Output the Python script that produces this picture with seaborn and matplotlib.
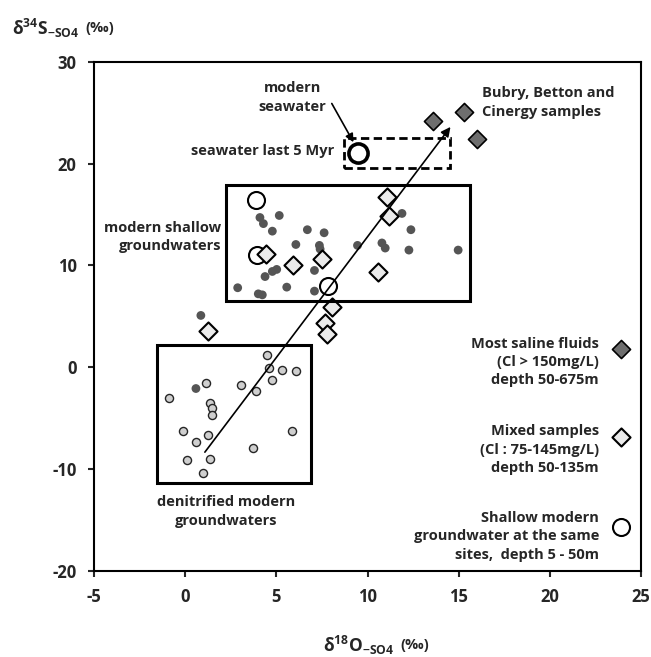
import matplotlib
matplotlib.use('Agg')
import matplotlib.pyplot as plt
from matplotlib.patches import Rectangle
import seaborn as sns
import pandas as pd

# d18O-SO4 (x) and d34S-SO4 (y)
saline_x = [13.6, 15.3, 16.0]
saline_y = [24.2, 25.05, 22.4]

mixed_x = [11.07, 11.19, 4.43, 5.93, 7.53, 10.6, 8.04, 7.68, 7.77, 1.26]
mixed_y = [16.7, 14.8, 11.07, 10.06, 10.65, 9.33, 5.9, 4.3, 3.28, 3.54]

shallow_x = [3.88, 3.96, 7.84]
shallow_y = [16.4, 11.0, 7.96]

seawater_x = [9.47]
seawater_y = [21.0]

# grey dots (modern shallow groundwaters)
dots_x = [4.1, 4.29, 5.16, 4.78, 6.7, 7.62, 6.07, 7.36, 7.4, 9.45, 10.79, 10.97,
          11.89, 12.38, 12.27, 14.97, 6.08, 4.78, 5.02, 4.38, 7.09, 2.88, 4.01,
          4.23, 5.57, 7.09, 0.86, 0.59]
dots_y = [14.7, 14.1, 14.9, 13.36, 13.5, 13.2, 12.05, 11.96, 11.6, 11.96, 12.2, 11.7,
          15.1, 13.5, 11.5, 11.5, 9.8, 9.4, 9.6, 8.9, 9.5, 7.8, 7.2,
          7.1, 7.86, 7.47, 5.08, -2.1]

# small circles (denitrified modern groundwaters)
denit_x = [4.47, 4.6, 5.3, 6.06, 4.78, 1.12, 3.04, 3.87, -0.9, 1.36, 1.48, 1.45,
           -0.1, 1.26, 0.57, 5.88, 3.74, 0.11, 1.36, 0.99]
denit_y = [1.15, -0.1, -0.32, -0.42, -1.3, -1.53, -1.8, -2.3, -3.05, -3.5, -4.0, -4.75,
           -6.28, -6.65, -7.37, -6.28, -7.95, -9.17, -9.07, -10.4]

# legend symbols (drawn inside the plot, as in the original)
key_x = [23.9, 23.9, 23.9]
key_y = [1.8, -6.9, -15.7]
key_text = ['Most saline fluids\n(Cl > 150mg/L)\ndepth 50-675m',
            'Mixed samples\n(Cl : 75-145mg/L)\ndepth 50-135m',
            'Shallow modern\ngroundwater at the same\nsites,  depth 5 - 50m']
key_text_y = [0.5, -8.1, -16.6]

# boxes: (x0, y0, width, height)
upper_box = (2.24, 6.45, 13.36, 11.4)
lower_box = (-1.54, -11.4, 8.43, 13.53)
sea_box = (8.72, 19.6, 5.78, 2.9)

trend_start = (1.08, -8.35)
trend_end = (14.55, 23.6)
sea_arrow_start = (8.04, 25.9)
sea_arrow_end = (9.23, 22.1)

sns.set_style('ticks')
plt.rcParams['font.family'] = ['Open Sans', 'DejaVu Sans']
plt.rcParams['font.weight'] = 'bold'
plt.rcParams['axes.unicode_minus'] = False
plt.rcParams['mathtext.fontset'] = 'custom'
plt.rcParams['mathtext.bf'] = 'Open Sans:bold'
plt.rcParams['mathtext.rm'] = 'Open Sans:bold'
plt.rcParams['mathtext.it'] = 'Open Sans:bold'

fs = 10.5

fig = plt.figure(figsize=(6.51, 6.57), dpi=100)
ax = fig.add_axes([0.1444, 0.1313, 0.8403, 0.7747])

sns.scatterplot(x=dots_x, y=dots_y, ax=ax, s=40, color='#555555', edgecolor='none', zorder=3)
sns.scatterplot(x=denit_x, y=denit_y, ax=ax, s=34, color='#cfcfcf', edgecolor='#262626',
                linewidth=1.0, zorder=3)
sns.scatterplot(x=shallow_x, y=shallow_y, ax=ax, s=150, color='white', edgecolor='black',
                linewidth=1.5, zorder=4)
sns.scatterplot(x=seawater_x, y=seawater_y, ax=ax, s=190, color='white', edgecolor='black',
                linewidth=2.6, zorder=4)
sns.scatterplot(x=mixed_x, y=mixed_y, ax=ax, s=85, marker='D', color='#ebebeb',
                edgecolor='black', linewidth=1.5, zorder=5)
sns.scatterplot(x=saline_x, y=saline_y, ax=ax, s=85, marker='D', color='#6e6e6e',
                edgecolor='black', linewidth=1.2, zorder=5)

# key symbols
sns.scatterplot(x=key_x[:1], y=key_y[:1], ax=ax, s=85, marker='D', color='#6e6e6e',
                edgecolor='black', linewidth=1.2, zorder=5)
sns.scatterplot(x=key_x[1:2], y=key_y[1:2], ax=ax, s=85, marker='D', color='#ebebeb',
                edgecolor='black', linewidth=1.5, zorder=5)
sns.scatterplot(x=key_x[2:], y=key_y[2:], ax=ax, s=150, color='white', edgecolor='black',
                linewidth=1.5, zorder=5)
for ty, txt in zip(key_text_y, key_text):
    ax.text(22.7, ty, txt, ha='right', va='center', multialignment='right',
            fontsize=fs, fontweight='bold', linespacing=1.4)

ax.add_patch(Rectangle(upper_box[:2], upper_box[2], upper_box[3], fill=False,
                       lw=2.2, ec='black', zorder=6))
ax.add_patch(Rectangle(lower_box[:2], lower_box[2], lower_box[3], fill=False,
                       lw=2.2, ec='black', zorder=6))
ax.add_patch(Rectangle(sea_box[:2], sea_box[2], sea_box[3], fill=False,
                       lw=2.0, ec='black', ls=(0, (3, 1.6)), zorder=6))

ax.annotate('', xy=trend_end, xytext=trend_start,
            arrowprops=dict(arrowstyle='-|>', color='black', lw=1.2,
                            mutation_scale=14, shrinkA=0, shrinkB=0), zorder=7)
ax.annotate('', xy=sea_arrow_end, xytext=sea_arrow_start,
            arrowprops=dict(arrowstyle='-|>', color='black', lw=1.2,
                            mutation_scale=12, shrinkA=0, shrinkB=0), zorder=7)

ax.text(5.87, 26.5, 'modern\nseawater', ha='center', va='center', fontsize=fs,
        fontweight='bold', linespacing=1.5)
ax.text(8.2, 21.2, 'seawater last 5 Myr', ha='right', va='center', fontsize=fs,
        fontweight='bold')
ax.text(16.3, 26.0, 'Bubry, Betton and\nCinergy samples', ha='left', va='center',
        fontsize=fs, fontweight='bold', linespacing=1.4)
ax.text(1.96, 12.8, 'modern shallow\ngroundwaters', ha='right', va='center',
        multialignment='right', fontsize=fs, fontweight='bold', linespacing=1.4)
ax.text(2.24, -14.2, 'denitrified modern\ngroundwaters', ha='center', va='center',
        fontsize=fs, fontweight='bold', linespacing=1.4)

ax.set_xlim(-5, 25)
ax.set_ylim(-20, 30)
ax.set_xticks(range(-5, 26, 5))
ax.set_yticks(range(-20, 31, 10))
ax.tick_params(direction='out', length=4.5, width=1.5, pad=8, labelsize=12)
for lab in ax.get_xticklabels() + ax.get_yticklabels():
    lab.set_fontweight('bold')
for sp in ax.spines.values():
    sp.set_visible(True)
    sp.set_linewidth(1.5)
    sp.set_color('black')

# axis titles: main part, then a smaller (‰) placed just after it
renderer = fig.canvas.get_renderer()
for (px, py, label) in [(12, 28, r'$\mathbf{\delta^{34}S_{-SO4}}$'),
                        (323, 645, r'$\mathbf{\delta^{18}O_{-SO4}}$')]:
    t = fig.text(px / 651, 1 - py / 657, label, fontsize=12.5, ha='left', va='center')
    bb = t.get_window_extent(renderer)
    fig.text((bb.x1 + 6) / 651, 1 - py / 657, '(‰)', fontsize=10.5, ha='left',
             va='center', fontweight='bold')

fig.savefig('out.png', dpi=100, facecolor='white')
